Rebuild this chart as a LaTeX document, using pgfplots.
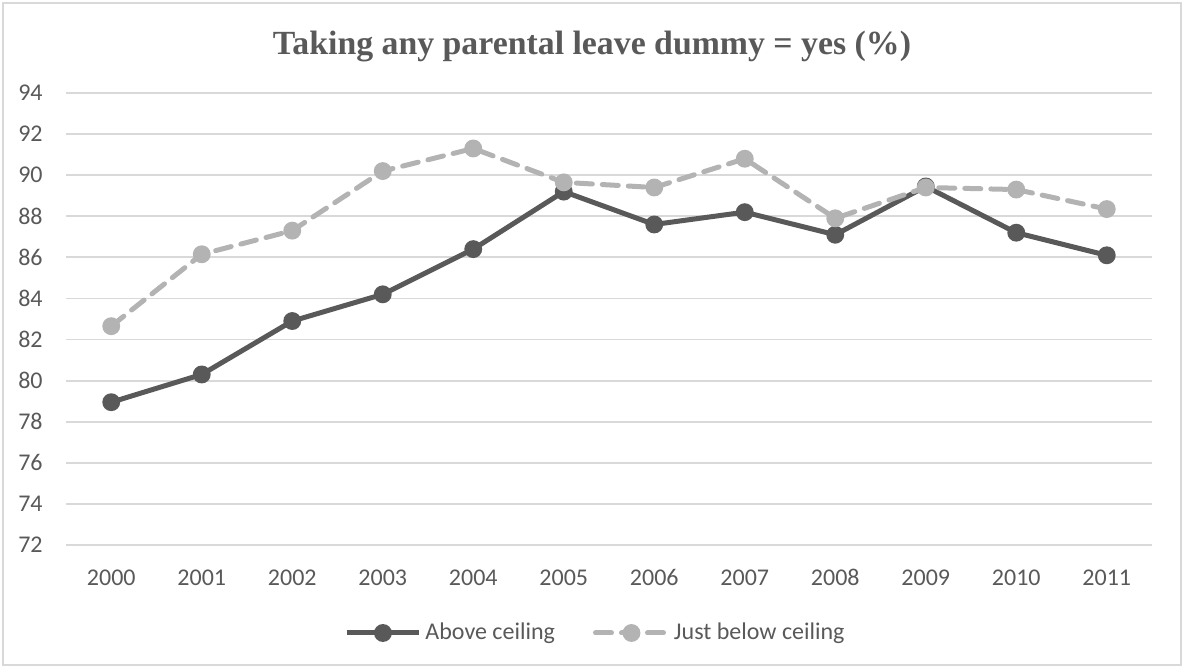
\documentclass[border=0pt]{standalone}
\usepackage{pgfplots}
\pgfplotsset{compat=1.18}
\usepackage{fontspec}
\setmainfont{Carlito}
\newfontfamily\titlefont{Liberation Serif}
\definecolor{txt}{HTML}{595959}
\definecolor{gridc}{HTML}{D9D9D9}
\definecolor{dark}{HTML}{595959}
\definecolor{light}{HTML}{B3B3B3}
\begin{document}
\begin{tikzpicture}
\path (0,0) rectangle (592pt,334pt);
\draw[gridc, line width=0.8pt] (1.5pt,1.5pt) rectangle (590.5pt,332.5pt);
\begin{axis}[
  at={(33pt,61.5pt)}, anchor=south west,
  scale only axis, width=543pt, height=226pt,
  xmin=1999.5, xmax=2011.5, ymin=72, ymax=94,
  xtick={2000,2001,...,2011},
  xticklabels={2000,2001,2002,2003,2004,2005,2006,2007,2008,2009,2010,2011},
  ytick={72,74,...,94},
  /pgf/number format/1000 sep={},
  /pgf/number format/assume math mode=true,
  axis line style={draw=none},
  major tick length=0pt,
  xmajorgrids=false,
  ymajorgrids=true, grid style={draw=gridc, line width=0.9pt},
  tick label style={font=\fontsize{12}{14}\selectfont, text=txt},
  yticklabel style={anchor=east, inner sep=0pt, xshift=-11.5pt},
  xticklabel style={anchor=north, inner sep=0pt, yshift=-11.5pt, text height=8.5pt, text depth=0pt},
  title={\titlefont\bfseries Taking any parental leave dummy = yes (\%)},
  title style={at={(0.5,1)}, anchor=center, xshift=-8.5pt, yshift=17pt, font=\fontsize{16.9}{19}\selectfont, text=txt},
  legend style={at={(0.4885,-0.1947)}, anchor=center, draw=none, fill=none,
    font=\fontsize{12}{14}\selectfont, text=txt,
    /tikz/every even column/.append style={column sep=17pt},
    /tikz/every odd column/.append style={inner xsep=2pt}},
  legend columns=2,
  legend cell align=left,
  legend image code/.code={\draw[mark repeat=2,mark phase=2,#1] plot coordinates {(0pt,0pt) (18pt,0pt) (36pt,0pt)};},
]
\addplot[dark, line width=2.5pt, mark=*, mark size=3.2pt, mark options={solid}] coordinates {
(2000,78.95) (2001,80.3) (2002,82.9) (2003,84.2) (2004,86.4) (2005,89.2)
(2006,87.6) (2007,88.2) (2008,87.1) (2009,89.45) (2010,87.2) (2011,86.1)};
\addlegendentry{Above ceiling}
\addplot[light, line width=2.5pt, dash pattern=on 8pt off 5pt, line cap=round, mark=*, mark size=3.2pt, mark options={solid}] coordinates {
(2000,82.65) (2001,86.15) (2002,87.3) (2003,90.2) (2004,91.3) (2005,89.65)
(2006,89.4) (2007,90.8) (2008,87.9) (2009,89.4) (2010,89.3) (2011,88.35)};
\addlegendentry{Just below ceiling}
\end{axis}
\end{tikzpicture}
\end{document}
